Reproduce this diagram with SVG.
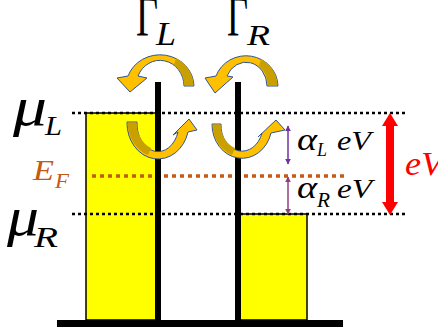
<svg xmlns="http://www.w3.org/2000/svg" width="438" height="335" viewBox="0 0 438 335">
<defs>
<style>
.mathup{font-family:"Liberation Serif","DejaVu Serif",serif;fill:#000}
.math{font-family:"Liberation Serif","DejaVu Serif",serif;font-style:italic;fill:#000}
.orange{fill:#C55A11}
.red{fill:#FF0000}
.dot{stroke:#000;stroke-width:2.5;stroke-dasharray:3 3;fill:none}
.ef{stroke:#C55A11;stroke-width:3.5;stroke-dasharray:4 4;fill:none}
.well{fill:#FFFF00;stroke:#000;stroke-width:1.5}
.bar{stroke:#000;stroke-width:6;fill:none}
.arc{fill:#FFC000;stroke:#2F5597;stroke-width:1;stroke-linejoin:round}
.arcd{fill:#C9A000;stroke:none}
.pu{stroke:#7030A0;stroke-width:1.5;fill:none}
.pu2{stroke:#953B7E;stroke-width:1.5;fill:none}
</style>
<marker id="mp" viewBox="0 0 10 10" refX="9" refY="5" markerWidth="6" markerHeight="6" orient="auto-start-reverse" markerUnits="userSpaceOnUse"><path d="M0,0 L10,5 L0,10 Z" fill="#7030A0"/></marker>
<marker id="mp2" viewBox="0 0 10 10" refX="9" refY="5" markerWidth="6" markerHeight="6" orient="auto-start-reverse" markerUnits="userSpaceOnUse"><path d="M0,0 L10,5 L0,10 Z" fill="#953B7E"/></marker>
</defs>
<rect width="438" height="335" fill="#fff"/>

<g id="leftWell"><rect class="well" x="86" y="113" width="72" height="207"/></g>
<g id="rightWell"><rect class="well" x="240" y="214" width="67" height="106"/></g>

<g id="levels">
<line class="dot" x1="72" y1="113" x2="405" y2="113"/>
<line class="dot" x1="72" y1="214" x2="405" y2="214"/>
<line class="ef" x1="92" y1="176" x2="344" y2="176"/>
</g>

<g id="barriers">
<line class="bar" x1="158" y1="82" x2="158" y2="321"/>
<line class="bar" x1="238" y1="82" x2="238" y2="321"/>
<rect x="57" y="320" width="286" height="7" fill="#000"/>
</g>

<g id="connectors">
<g id="arcUL">
<path class="arc" d="M194 86 A34 32 0 0 0 128 76 L117 78 L130 92 L147 78 L138 76 A24 26 0 0 1 184 86 Z"/>
<path class="arcd" d="M176 58 A34 32 0 0 1 193.5 85.5 L184.5 85.5 A24 26 0 0 0 174 65 Z"/>
</g>
<g id="arcLL">
<path class="arc" d="M127 122 A31 36 0 0 0 188 132 L197 130 L189 119 L173 135 L178 132 A21 28 0 0 1 137 122 Z"/>
<path class="arcd" d="M127.5 122.5 A31 36 0 0 0 148 155 L151 148 A21 28 0 0 1 136.5 122.5 Z"/>
</g>
<g id="arcUR">
<path class="arc" d="M278 86 A32 31 0 0 0 216 76 L205 78 L215 93 L233 77 L227 76 A21 24 0 0 1 267 86 Z"/>
<path class="arcd" d="M261 59 A32 31 0 0 1 277.5 85.5 L267.5 85.5 A21 24 0 0 0 259 66 Z"/>
</g>
<g id="arcLR">
<path class="arc" d="M212 124 A30 34 0 0 0 271 133 L285 130 L276 120 L258 137 L262 133 A21 26 0 0 1 221 124 Z"/>
<path class="arcd" d="M212.5 124.5 A30 34 0 0 0 232 155 L235 148 A21 26 0 0 1 220.5 124.5 Z"/>
</g>
<line class="pu" x1="288" y1="126" x2="288" y2="164" marker-start="url(#mp)" marker-end="url(#mp)"/>
<line class="pu2" x1="288" y1="177" x2="288" y2="214" marker-start="url(#mp2)" marker-end="url(#mp2)"/>
<g id="redArrow" fill="#FF0000">
<rect x="386" y="123" width="8" height="81"/>
<path d="M382 126 L390 113 L398 126 Z"/>
<path d="M382 202 L390 215 L398 202 Z"/>
</g>
</g>

<g id="labelGammaL">
<text class="mathup" x="136" y="36" font-size="56" textLength="22" lengthAdjust="spacingAndGlyphs">Γ</text>
<text class="math" x="156" y="45" font-size="34" textLength="20" lengthAdjust="spacingAndGlyphs">L</text>
</g>
<g id="labelGammaR">
<text class="mathup" x="227" y="36" font-size="56" textLength="21" lengthAdjust="spacingAndGlyphs">Γ</text>
<text class="math" x="247" y="45" font-size="30" textLength="23" lengthAdjust="spacingAndGlyphs">R</text>
</g>
<g id="labelMuL">
<text class="math" x="13" y="125" font-size="54" textLength="34" lengthAdjust="spacingAndGlyphs">μ</text>
<text class="math" x="45" y="135" font-size="27" textLength="17" lengthAdjust="spacingAndGlyphs">L</text>
</g>
<g id="labelEF">
<text class="math orange" x="33" y="180" font-size="30" textLength="21" lengthAdjust="spacingAndGlyphs">E</text>
<text class="math orange" x="55" y="188" font-size="20" textLength="14" lengthAdjust="spacingAndGlyphs">F</text>
</g>
<g id="labelMuR">
<text class="math" x="7" y="235" font-size="54" textLength="32" lengthAdjust="spacingAndGlyphs">μ</text>
<text class="math" x="34" y="247" font-size="30" textLength="24" lengthAdjust="spacingAndGlyphs">R</text>
</g>
<g id="labelAlphaL">
<text class="math" x="297" y="150" font-size="31" textLength="20" lengthAdjust="spacingAndGlyphs">α</text>
<text class="math" x="317" y="156" font-size="18" textLength="10" lengthAdjust="spacingAndGlyphs">L</text>
<text class="math" x="337" y="150" font-size="27" textLength="34" lengthAdjust="spacingAndGlyphs">eV</text>
</g>
<g id="labelAlphaR">
<text class="math" x="297" y="198" font-size="31" textLength="20" lengthAdjust="spacingAndGlyphs">α</text>
<text class="math" x="317" y="207" font-size="21" textLength="13" lengthAdjust="spacingAndGlyphs">R</text>
<text class="math" x="337" y="198" font-size="27" textLength="35" lengthAdjust="spacingAndGlyphs">eV</text>
</g>
<g id="labelEV">
<text class="math red" x="405" y="175" font-size="33" textLength="38" lengthAdjust="spacingAndGlyphs">eV</text>
</g>
</svg>
